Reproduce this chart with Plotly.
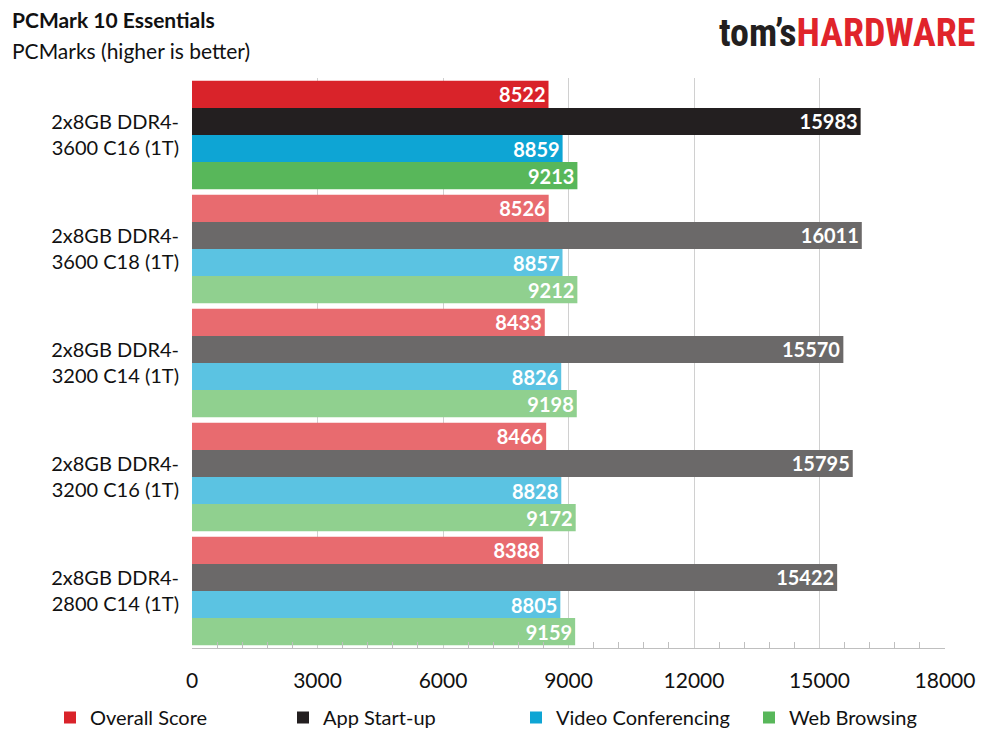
import plotly.graph_objects as go

categories = ["2x8GB DDR4-<br>3600 C16 (1T)", "2x8GB DDR4-<br>3600 C18 (1T)", "2x8GB DDR4-<br>3200 C14 (1T)",
              "2x8GB DDR4-<br>3200 C16 (1T)", "2x8GB DDR4-<br>2800 C14 (1T)"]
series = ["Overall Score", "App Start-up", "Video Conferencing", "Web Browsing"]
overall = [8522, 8526, 8433, 8466, 8388]
app = [15983, 16011, 15570, 15795, 15422]
video = [8859, 8857, 8826, 8828, 8805]
web = [9213, 9212, 9198, 9172, 9159]
values = [overall, app, video, web]
strong = ["#D9232A", "#231F20", "#0EA5D4", "#58B75A"]
light = ["#E86B6F", "#6B6969", "#5BC3E2", "#90D08F"]

FONT = "Lato"
fig = go.Figure()
for name, vals, s, l in zip(series, values, strong, light):
    fig.add_trace(go.Bar(
        y=categories, x=vals, name=name, orientation="h",
        marker=dict(color=[s] + [l] * (len(vals) - 1), line=dict(width=0)),
        text=[str(v) for v in vals], textposition="inside", insidetextanchor="end",
        textfont=dict(family=FONT, size=20, color="white", weight="bold"),
        cliponaxis=False,
    ))

PW, PH = 753, 570
fig.update_layout(
    barmode="group", bargap=0.05, bargroupgap=0,
    width=981, height=733, plot_bgcolor="white", paper_bgcolor="white",
    margin=dict(l=184, r=44, t=70, b=93, autoexpand=False),
    font=dict(family=FONT, size=20, color="#111"),
    uniformtext=dict(mode="show", minsize=20),
    xaxis=dict(range=[0, 18000], dtick=3000, tickformat="d", showgrid=True, gridcolor="#D0D0D0",
               zeroline=False, showline=True, linecolor="#BFBFBF", automargin=False,
               ticks="", tickfont=dict(size=21, family=FONT), ticklabelstandoff=14,
               minor=dict(dtick=600, ticks="inside", ticklen=6, tickcolor="#BFBFBF", showgrid=False)),
    yaxis=dict(autorange="reversed", showline=False, ticks="", tickfont=dict(size=20, family=FONT),
               ticklabelstandoff=12, automargin=False),
    legend=dict(orientation="h", x=-142/PW, xanchor="left", y=-50/PH, yanchor="top",
                font=dict(size=20, family=FONT), entrywidth=188, entrywidthmode="pixels",
                traceorder="normal", itemsizing="constant"),
)
fig.add_annotation(text="<b>PCMark 10 Essentials</b>", xref="paper", yref="paper", x=-182/PW, y=1+58/PH,
                   xanchor="left", yanchor="middle", showarrow=False, font=dict(size=21, family=FONT, color="#111"))
fig.add_annotation(text="PCMarks (higher is better)", xref="paper", yref="paper", x=-182/PW, y=1+28/PH,
                   xanchor="left", yanchor="middle", showarrow=False, font=dict(size=21, family=FONT, color="#111"))
fig.add_annotation(text="<b><span style='color:#231F20'>tom’s</span><span style='color:#E0242B'>HARDWARE</span></b>",
                   xref="paper", yref="paper", x=1+32/PW, y=1+45/PH, xanchor="right", yanchor="middle",
                   showarrow=False, font=dict(size=38, family="Roboto Condensed, Roboto"))
fig.write_html("out.html")
